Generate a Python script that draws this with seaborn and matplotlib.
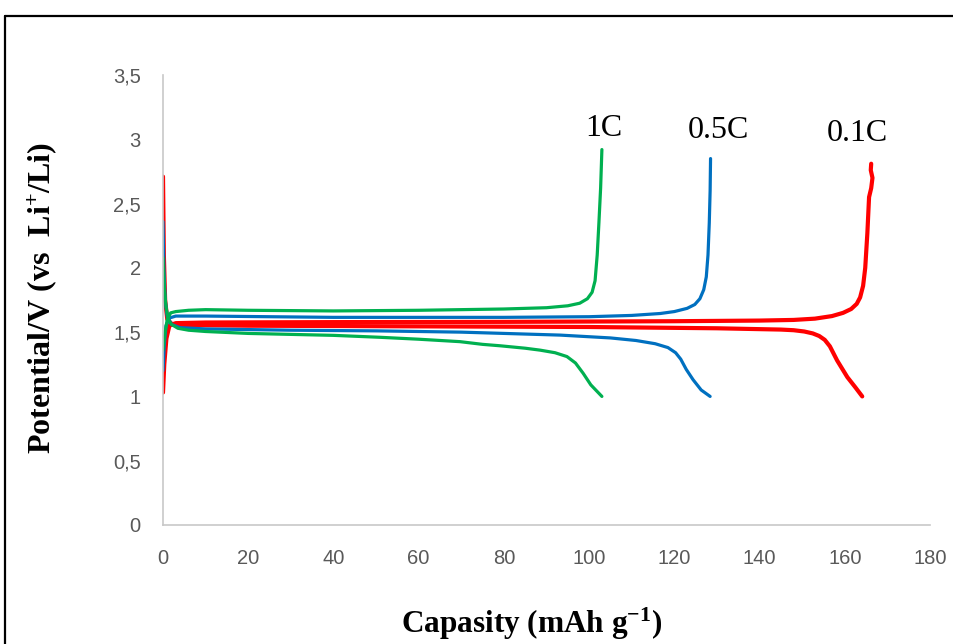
import numpy as np
import pandas as pd
import matplotlib
matplotlib.use("Agg")
import matplotlib.pyplot as plt
from matplotlib.lines import Line2D
import seaborn as sns

# ---------------- data ----------------
rates = ["0.1C", "0.5C", "1C"]
colors = {"0.1C": "#ff0000", "0.5C": "#0070c0", "1C": "#00b050"}

red_charge_x = [0, 0.3, 0.8, 1.5, 3, 10, 40, 80, 120, 140, 148, 153, 157, 159.6, 161.5, 162.8, 163.6, 164.3, 164.8, 165.3, 165.7, 166.2, 166.5, 166.1, 166.2]
red_charge_y = [1.03, 1.25, 1.45, 1.55, 1.57, 1.575, 1.578, 1.58, 1.585, 1.59, 1.595, 1.605, 1.625, 1.65, 1.68, 1.72, 1.77, 1.86, 2.00, 2.27, 2.55, 2.62, 2.70, 2.76, 2.81]
red_dis_x = [0, 0.2, 0.5, 1, 2, 5, 20, 60, 100, 130, 145, 148, 150.5, 152.5, 154, 155.3, 156.5, 158.2, 160.6, 162.5, 164.1]
red_dis_y = [2.71, 2.10, 1.75, 1.60, 1.565, 1.555, 1.55, 1.545, 1.54, 1.53, 1.52, 1.515, 1.505, 1.49, 1.47, 1.44, 1.39, 1.28, 1.15, 1.07, 1.00]

blue_charge_x = [0, 0.3, 0.7, 1.5, 3, 10, 40, 80, 100, 110, 116.7, 120, 123, 124.8, 126, 126.9, 127.5, 127.9, 128.2, 128.4, 128.5]
blue_charge_y = [1.20, 1.40, 1.55, 1.61, 1.625, 1.625, 1.615, 1.615, 1.62, 1.63, 1.645, 1.66, 1.685, 1.715, 1.76, 1.83, 1.93, 2.10, 2.35, 2.60, 2.85]
blue_dis_x = [0, 0.2, 0.5, 1, 2, 4, 10, 30, 50, 70, 93.2, 105, 111, 115.5, 118.5, 120.3, 121.5, 122.8, 124.4, 126.3, 128.4]
blue_dis_y = [2.36, 2.00, 1.75, 1.62, 1.56, 1.535, 1.525, 1.515, 1.51, 1.50, 1.477, 1.455, 1.435, 1.41, 1.38, 1.34, 1.29, 1.21, 1.13, 1.05, 1.00]

green_charge_x = [0, 0.5, 1, 1.8, 3, 6, 10, 20, 40, 60, 80, 90, 95, 97.8, 99.6, 100.7, 101.4, 101.9, 102.3, 102.7, 103]
green_charge_y = [1.36, 1.50, 1.60, 1.65, 1.66, 1.67, 1.675, 1.67, 1.665, 1.67, 1.68, 1.69, 1.705, 1.725, 1.76, 1.81, 1.90, 2.10, 2.35, 2.62, 2.92]
green_dis_x = [0, 0.3, 0.7, 1.2, 2, 3.5, 6, 10, 20, 40, 50.9, 60, 69.7, 75, 79.1, 85, 88.5, 92, 94.8, 96.8, 98.6, 100.4, 103]
green_dis_y = [2.08, 1.85, 1.70, 1.60, 1.56, 1.53, 1.515, 1.505, 1.49, 1.475, 1.46, 1.445, 1.426, 1.405, 1.394, 1.375, 1.36, 1.34, 1.31, 1.26, 1.18, 1.09, 1.00]

x_ticks = [0, 20, 40, 60, 80, 100, 120, 140, 160, 180]
y_ticks = [0, 0.5, 1, 1.5, 2, 2.5, 3, 3.5]
y_tick_labels = ["0", "0,5", "1", "1,5", "2", "2,5", "3", "3,5"]

label_text = {"1C": (103.5, 3.087), "0.5C": (130.3, 3.072), "0.1C": (162.9, 3.048)}

# ---------------- build table ----------------
frames = []
for rate, branches in [
    ("0.1C", [("charge", red_charge_x, red_charge_y), ("discharge", red_dis_x, red_dis_y)]),
    ("0.5C", [("charge", blue_charge_x, blue_charge_y), ("discharge", blue_dis_x, blue_dis_y)]),
    ("1C", [("charge", green_charge_x, green_charge_y), ("discharge", green_dis_x, green_dis_y)]),
]:
    for br, xs, ys in branches:
        frames.append(pd.DataFrame({"cap": xs, "V": ys, "rate": rate, "branch": rate + br}))
df = pd.concat(frames, ignore_index=True)

# ---------------- plot ----------------
sns.set_theme(style="white")
plt.rcParams["mathtext.fontset"] = "custom"
plt.rcParams["mathtext.rm"] = "Liberation Serif:bold"
plt.rcParams["mathtext.it"] = "Liberation Serif:bold"
plt.rcParams["mathtext.bf"] = "Liberation Serif:bold"

fig = plt.figure(figsize=(9.54, 6.44), dpi=100)
ax = fig.add_axes([163 / 954, 1 - 525 / 644, (930 - 163) / 954, (525 - 75) / 644])

for rate in rates:
    sub = df[df["rate"] == rate]
    sns.lineplot(data=sub, x="cap", y="V", units="branch", estimator=None, sort=False,
                 color=colors[rate], linewidth=3.0 if rate == "0.1C" else 2.3,
                 ax=ax, legend=False)

ax.set_xlim(0, 180)
ax.set_ylim(0, 3.5)
ax.set_xticks(x_ticks)
ax.set_xticklabels([str(t) for t in x_ticks])
ax.set_yticks(y_ticks)
ax.set_yticklabels(y_tick_labels)
ax.tick_params(axis="both", length=0, labelsize=14.5, labelcolor="#595959")
ax.tick_params(axis="x", pad=17)
ax.tick_params(axis="y", pad=16)
for lab in ax.get_xticklabels() + ax.get_yticklabels():
    lab.set_fontfamily("Liberation Sans")

for s in ["top", "right"]:
    ax.spines[s].set_visible(False)
for s in ["left", "bottom"]:
    ax.spines[s].set_color("#c8c8c8")
    ax.spines[s].set_linewidth(1.2)

ax.set_xlabel("Capasity (mAh g$^{-1}$)", fontfamily="Liberation Serif", fontweight="bold",
              fontsize=22.5, color="black")
ax.set_ylabel("Potential/V (vs  Li$^{+}$/Li)", fontfamily="Liberation Serif", fontweight="bold",
              fontsize=23, color="black")
ax.xaxis.set_label_coords((532 - 163) / 767, (525 - 624) / 450)
ax.yaxis.set_label_coords((42 - 163) / 767, (525 - 298) / 450)
ax.xaxis.label.set_va("center")
ax.yaxis.label.set_va("center")

for rate, (tx, ty) in label_text.items():
    ax.text(tx, ty, rate, fontfamily="Liberation Serif", fontsize=23, color="black",
            ha="center", va="center")

# outer frame (cut off at right/bottom like the reference)
fig.add_artist(Line2D([5 / 954, 1.0], [1 - 16 / 644, 1 - 16 / 644], transform=fig.transFigure,
                      color="black", linewidth=1.6))
fig.add_artist(Line2D([5 / 954, 5 / 954], [1 - 16 / 644, 0.0], transform=fig.transFigure,
                      color="black", linewidth=1.6))

fig.savefig("out.png", dpi=100)
